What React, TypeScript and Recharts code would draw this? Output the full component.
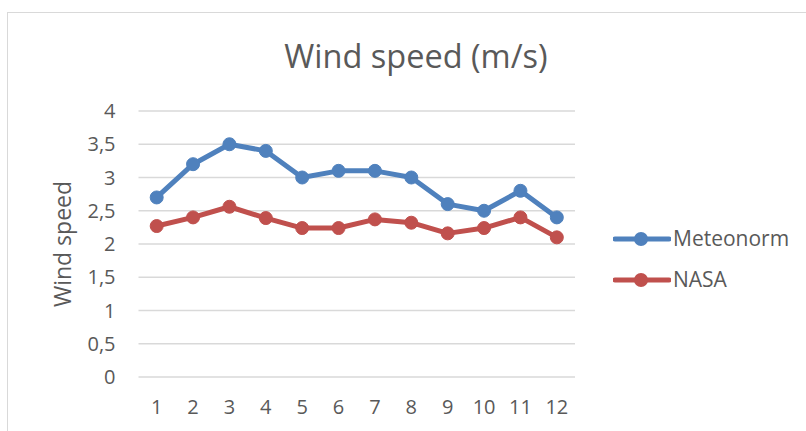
import React from "react";
import { LineChart, Line, XAxis, YAxis, CartesianGrid, Legend } from "recharts";

const months = [1, 2, 3, 4, 5, 6, 7, 8, 9, 10, 11, 12];
const meteonorm = [2.7, 3.2, 3.5, 3.4, 3.0, 3.1, 3.1, 3.0, 2.6, 2.5, 2.8, 2.4];
const nasa = [2.27, 2.4, 2.56, 2.39, 2.24, 2.24, 2.37, 2.32, 2.16, 2.24, 2.4, 2.1];
const yTicks = [0, 0.5, 1, 1.5, 2, 2.5, 3, 3.5, 4];
const title = "Wind speed (m/s)";
const yLabel = "Wind speed";
const series = [
  { key: "Meteonorm", values: meteonorm, color: "#4F81BD" },
  { key: "NASA", values: nasa, color: "#C0504D" },
];

const data = months.map((m, i) => {
  const row: Record<string, number> = { month: m };
  series.forEach((s) => (row[s.key] = s.values[i]));
  return row;
});

const FONT = "'Open Sans', sans-serif";
const TEXT = "#595959";

const fmt = (v: number) => String(v).replace(".", ",");

const LegendContent = () => (
  <div style={{ fontFamily: FONT, fontSize: 21, color: TEXT }}>
    {series.map((s) => (
      <div key={s.key} style={{ display: "flex", alignItems: "center", height: 41 }}>
        <svg width={58} height={16} style={{ display: "block" }}>
          <line x1={2} y1={8} x2={56} y2={8} stroke={s.color} strokeWidth={5} strokeLinecap="round" />
          <circle cx={28} cy={8} r={7} fill={s.color} />
        </svg>
        <span style={{ marginLeft: 2, lineHeight: "41px" }}>{s.key}</span>
      </div>
    ))}
  </div>
);

export default function App() {
  return (
    <div style={{ position: "absolute", left: 0, top: 0, width: 806, height: 431, overflow: "hidden", background: "#fff" }}>
      <div style={{ position: "absolute", left: 7, top: 12, width: 820, height: 440, border: "1px solid #d9d9d9", boxSizing: "border-box" }} />
      <div style={{ position: "absolute", left: 0, top: 37, width: 832, textAlign: "center", fontFamily: FONT, fontSize: 32.5, lineHeight: "38px", color: TEXT }}>
        {title}
      </div>
      <div style={{ position: "absolute", left: 0, top: 0 }}>
        <LineChart width={806} height={431} data={data} margin={{ top: 111, right: 231, bottom: 0, left: 0 }}>
          <CartesianGrid vertical={false} stroke="#d9d9d9" strokeWidth={1.3} />
          <XAxis
            dataKey="month"
            type="number"
            domain={[0.5, 12.5]}
            ticks={months}
            axisLine={false}
            tickLine={false}
            tickSize={0}
            tickMargin={23}
            height={54}
            interval={0}
            tick={{ fill: TEXT, fontSize: 20, fontFamily: FONT }}
          />
          <YAxis
            domain={[0, 4]}
            ticks={yTicks}
            axisLine={false}
            tickLine={false}
            tickSize={0}
            tickMargin={23}
            width={138.5}
            interval={0}
            tickFormatter={fmt}
            tick={{ fill: TEXT, fontSize: 20, fontFamily: FONT }}
            label={{ value: yLabel, angle: -90, position: "center", dx: -6, fill: TEXT, fontSize: 23, fontFamily: FONT }}
          />
          <Legend
            layout="vertical"
            align="center"
            verticalAlign="middle"
            content={<LegendContent />}
            wrapperStyle={{ left: 613, top: 218, width: 190 }}
          />
          {series.map((s) => (
            <Line
              key={s.key}
              dataKey={s.key}
              stroke={s.color}
              strokeWidth={5}
              strokeLinejoin="round"
              dot={{ r: 6.5, fill: s.color, stroke: s.color, strokeWidth: 1 }}
              isAnimationActive={false}
            />
          ))}
        </LineChart>
      </div>
    </div>
  );
}
